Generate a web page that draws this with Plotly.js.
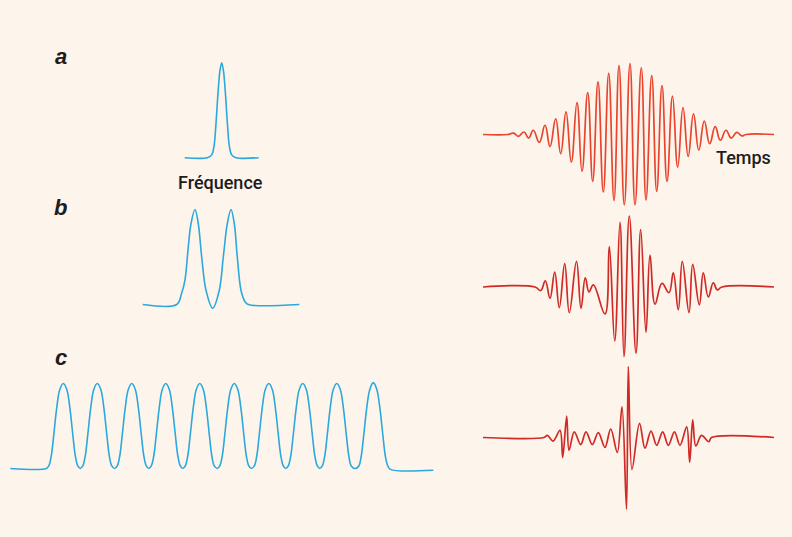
<!DOCTYPE html>
<html>
<head>
<meta charset="utf-8">
<script src="https://cdn.plot.ly/plotly-3.0.1.min.js"></script>
<style>
html,body{margin:0;padding:0;background:#fdf5eb;}
#chart{width:792px;height:537px;}
</style>
</head>
<body>
<div id="chart"></div>
<script>
// ---------- DATA ----------
// Spectra (frequency offset, relative amplitude)
const specAFreq = [-37, -14.5, -10, -7.7, -5.7, -3.7, -1.7, 0, 1.7, 3.7, 5.7, 7.7, 10, 14.5, 37];
const specAAmp  = [0, 0, 0.03, 0.12, 0.36, 0.68, 0.92, 1, 0.92, 0.68, 0.36, 0.12, 0.03, 0, 0];

const specBFreq = [-70.3, -36.3, -31.3, -28, -24.7, -22, -18, -14.7, -11.3, -7, -0.3, 6.3, 10.3, 14.3, 18, 21.3, 24.3, 28, 32, 35.3, 86.3];
const specBAmp  = [0, 0, 0.12, 0.26, 0.61, 0.85, 1, 0.85, 0.5, 0.15, -0.04, 0.15, 0.5, 0.85, 1, 0.85, 0.5, 0.15, 0.03, 0, 0];

const specCFreq = [-208, -172,
  -169.5, -167, -164.5, -161.5, -158.5, -155, -151.5, -148.5, -145.5, -143, -140.5, -138,
  -135.5, -133, -130.5, -127.5, -124.5, -121, -117.5, -114.5, -111.5, -109, -106.5, -103.5,
  -101, -98.5, -96, -93, -90, -86.5, -83, -80, -77, -74.5, -72, -69.5,
  -67, -64.5, -62, -59, -56, -52.5, -49, -46, -43, -40.5, -38, -35.5,
  -33, -30.5, -28, -25, -22, -18.5, -15, -12, -9, -6.5, -4, -1,
  1.5, 4, 6.5, 9.5, 12.5, 16, 19.5, 22.5, 25.5, 28, 30.5, 33,
  36, 38.5, 41, 44, 47, 50.5, 54, 57, 60, 62.5, 65, 67.5,
  70, 72.5, 75, 78, 81, 84.5, 88, 91, 94, 96.5, 99, 101.5,
  104, 106.5, 109, 112, 115, 118.5, 122, 125, 128, 130.5, 133, 137,
  140.5, 143, 145.5, 148.5, 151.5, 155, 158.5, 161.5, 164.5, 167, 169.5, 172, 215];
const specCAmp = [0, 0,
  0.03, 0.15, 0.4, 0.72, 0.93, 1, 0.93, 0.72, 0.4, 0.15, 0.03, 0,
  0.03, 0.15, 0.4, 0.72, 0.93, 1, 0.93, 0.72, 0.4, 0.15, 0.03, 0,
  0.03, 0.15, 0.4, 0.72, 0.93, 1, 0.93, 0.72, 0.4, 0.15, 0.03, 0,
  0.03, 0.15, 0.4, 0.72, 0.93, 1, 0.93, 0.72, 0.4, 0.15, 0.03, 0,
  0.03, 0.15, 0.4, 0.72, 0.93, 1, 0.93, 0.72, 0.4, 0.15, 0.03, 0,
  0.03, 0.15, 0.4, 0.72, 0.93, 1, 0.93, 0.72, 0.4, 0.15, 0.03, 0,
  0.03, 0.15, 0.4, 0.72, 0.93, 1, 0.93, 0.72, 0.4, 0.15, 0.03, 0,
  0.03, 0.15, 0.4, 0.72, 0.93, 1, 0.93, 0.72, 0.4, 0.15, 0.03, 0,
  0.03, 0.15, 0.4, 0.72, 0.93, 1, 0.93, 0.72, 0.4, 0.15, 0.03, 0,
  0.03, 0.15, 0.4, 0.72, 0.93, 1.01, 0.93, 0.72, 0.4, 0.15, 0.03, -0.01, -0.02];

// Time signals (time, field) — extrema
const sigATime = [-147, -122, -116.5, -111.7, -106, -101.3, -96.7, -90.7, -85, -80, -74.3, -69.3, -64, -58.7, -53, -48, -42.3, -37.3, -32, -26.7, -21.3, -16, -11, -5.7, 0, 5, 11.3, 16, 21.7, 26.7, 32, 37, 42.5, 47.7, 53, 58.2, 63.5, 68.8, 74.3, 79.7, 85.2, 90.3, 96, 101.2, 106.7, 111.8, 116, 144];
const sigAField = [0, 0, 0.02, -0.025, 0.035, -0.05, 0.06, -0.11, 0.13, -0.17, 0.22, -0.27, 0.32, -0.39, 0.45, -0.52, 0.59, -0.66, 0.74, -0.81, 0.86, -0.93, 0.97, -0.99, 1.0, -0.99, 0.94, -0.92, 0.83, -0.80, 0.69, -0.66, 0.54, -0.46, 0.38, -0.31, 0.29, -0.22, 0.19, -0.13, 0.11, -0.08, 0.06, -0.05, 0.03, -0.02, 0, 0];

const sigBTime = [-147, -95, -89.3, -84.7, -80, -75.3, -70.7, -65.3, -60.7, -53.5, -49, -44.7, -41, -36.7, -25, -20.7, -15.3, -10, -6, -0.7, 6, 10.7, 16, 20, 25, 32, 39, 43.3, 48.3, 52.3, 59, 62.7, 69.3, 73.3, 78.3, 83.3, 87.3, 92, 144];
const sigBField = [0, 0, -0.05, 0.085, -0.16, 0.21, -0.29, 0.33, -0.36, 0.36, -0.30, 0.13, -0.07, 0.03, -0.38, 0.57, -0.76, 0.91, -0.98, 1.0, -0.93, 0.81, -0.64, 0.45, -0.24, 0.05, -0.08, 0.20, -0.32, 0.36, -0.36, 0.32, -0.25, 0.20, -0.14, 0.06, -0.04, 0, 0];

const sigCTime = [-147, -86, -82.7, -77, -70, -67.3, -63.3, -61, -55.7, -49.3, -44, -37.7, -31.7, -25, -19.3, -12.7, -8, -3.5, -1.7, 2, 9.5, 15, 21, 26.7, 32.7, 38.3, 44.5, 50, 56.7, 59.7, 62.7, 65.8, 71.5, 78.8, 81.5, 144];
const sigCField = [0, 0, 0.03, -0.05, 0.10, -0.28, 0.30, -0.18, 0.08, -0.10, 0.08, -0.10, 0.07, -0.14, 0.12, -0.21, 0.43, -1.01, 1.0, -0.45, 0.20, -0.15, 0.09, -0.11, 0.08, -0.11, 0.08, -0.11, 0.15, -0.35, 0.25, -0.12, 0.03, -0.06, 0, 0];

const panelLabels = ['a', 'b', 'c'];
const freqLabel = 'Fréquence';
const timeLabel = 'Temps';

// ---------- LAYOUT HELPERS ----------
const W = 792, H = 537;
function xAxisAt(centerPx, pxPerUnit, r0, r1) {
  return {range: [r0, r1], domain: [(centerPx + r0 * pxPerUnit) / W, (centerPx + r1 * pxPerUnit) / W],
          visible: false, fixedrange: true};
}
function yAxisAt(basePx, pxPerUnit, r0, r1) {
  return {range: [r0, r1], domain: [(H - (basePx - r0 * pxPerUnit)) / H, (H - (basePx - r1 * pxPerUnit)) / H],
          visible: false, fixedrange: true};
}

const blue = '#2ba8dd';
const redA = '#e8442e';
const redBC = '#cf2a26';

function line(x, y, ax, ay, color, w, sm) {
  return {x: x, y: y, xaxis: ax, yaxis: ay, type: 'scatter', mode: 'lines',
          line: {color: color, width: w, shape: 'spline', smoothing: sm},
          hoverinfo: 'skip', showlegend: false};
}

const data = [
  line(specAFreq, specAAmp, 'x', 'y', blue, 1.6, 1),
  line(specBFreq, specBAmp, 'x2', 'y2', blue, 1.6, 1),
  line(specCFreq, specCAmp, 'x3', 'y3', blue, 1.6, 1),
  line(sigATime, sigAField, 'x4', 'y4', redA, 1.7, 1.3),
  line(sigBTime, sigBField, 'x5', 'y5', redBC, 1.7, 1.2),
  line(sigCTime, sigCField, 'x6', 'y6', redBC, 1.7, 1)
];

const layout = {
  width: W, height: H,
  margin: {l: 0, r: 0, t: 0, b: 0, pad: 0},
  paper_bgcolor: '#fdf5eb',
  plot_bgcolor: 'rgba(0,0,0,0)',
  showlegend: false,
  xaxis:  Object.assign(xAxisAt(221.7, 1, -215, 215), {anchor: 'y'}),
  yaxis:  Object.assign(yAxisAt(157.7, 95, -0.2, 1.2), {anchor: 'x'}),
  xaxis2: Object.assign(xAxisAt(213, 1, -200, 200), {anchor: 'y2'}),
  yaxis2: Object.assign(yAxisAt(304.5, 95, -0.2, 1.2), {anchor: 'x2'}),
  xaxis3: Object.assign(xAxisAt(218.3, 1, -216, 216), {anchor: 'y3'}),
  yaxis3: Object.assign(yAxisAt(468.5, 85, -0.2, 1.2), {anchor: 'x3'}),
  xaxis4: Object.assign(xAxisAt(630, 1, -150, 150), {anchor: 'y4'}),
  yaxis4: Object.assign(yAxisAt(134.5, 71, -1.2, 1.2), {anchor: 'x4'}),
  xaxis5: Object.assign(xAxisAt(630, 1, -150, 150), {anchor: 'y5'}),
  yaxis5: Object.assign(yAxisAt(287, 71, -1.2, 1.2), {anchor: 'x5'}),
  xaxis6: Object.assign(xAxisAt(630, 1, -150, 150), {anchor: 'y6'}),
  yaxis6: Object.assign(yAxisAt(437.5, 71, -1.2, 1.2), {anchor: 'x6'}),
  annotations: []
};

const labelFont = {family: 'Liberation Sans, Arial, sans-serif', size: 22, color: '#1e1c1c', weight: 700, style: 'italic'};
const labelY = [56, 207, 357];
panelLabels.forEach(function (t, i) {
  layout.annotations.push({text: t, xref: 'paper', yref: 'paper', x: 60.5 / W, y: 1 - labelY[i] / H,
    xanchor: 'center', yanchor: 'middle', showarrow: false, font: labelFont});
});
const axisFont = {family: 'Roboto, sans-serif', size: 18, color: '#1e1c1c', weight: 500};
layout.annotations.push({text: freqLabel, xref: 'paper', yref: 'paper', x: 220.5 / W, y: 1 - 183 / H,
  xanchor: 'center', yanchor: 'middle', showarrow: false, font: axisFont});
layout.annotations.push({text: timeLabel, xref: 'paper', yref: 'paper', x: 743 / W, y: 1 - 157 / H,
  xanchor: 'center', yanchor: 'middle', showarrow: false, font: axisFont});

Plotly.newPlot('chart', data, layout, {staticPlot: true, displayModeBar: false});
</script>
</body>
</html>
